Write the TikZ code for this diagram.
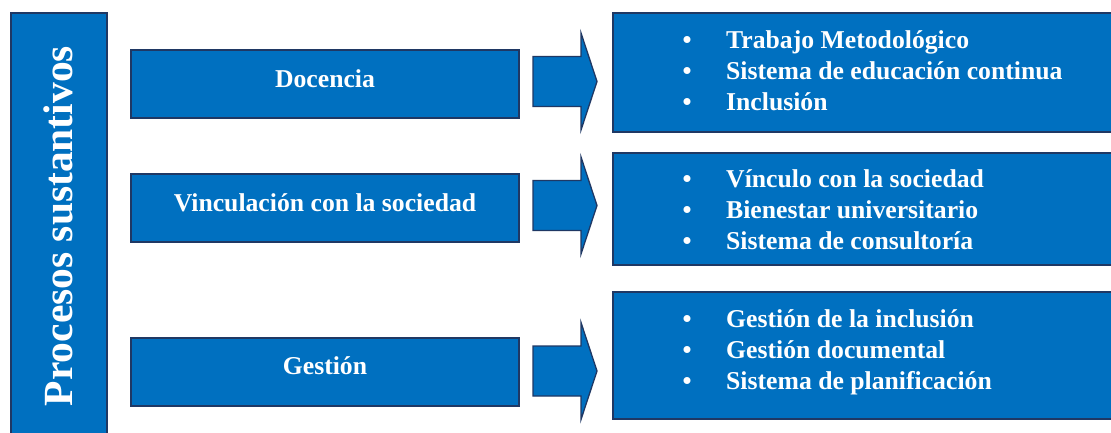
\documentclass[tikz,border=0pt]{standalone}
\usepackage{fontspec}
\setmainfont{Liberation Serif}
\definecolor{fillblue}{HTML}{0070C0}
\definecolor{edgeblue}{HTML}{1F3864}
\begin{document}
\begin{tikzpicture}[x=1pt,y=-1pt,
  box/.style={draw=edgeblue, fill=fillblue, line width=1.5pt, rectangle, inner sep=0pt},
  blockarrow/.style={draw=edgeblue, fill=fillblue, line width=1.3pt, line join=miter},
  txt/.style={text=white, font=\fontsize{25.7}{31}\selectfont\bfseries, inner sep=0pt},
  itemtxt/.style={txt, anchor=base west},
  bul/.style={txt, anchor=base},
  vtxt/.style={text=white, font=\fontsize{41.5}{48}\selectfont\bfseries, inner sep=0pt, anchor=base, rotate=90}]
\clip (0,0) rectangle (1111,432);
\fill[white] (0,0) rectangle (1111,432);

% left vertical bar
\node[box, minimum width=96pt, minimum height=432pt] (bar) at (59,229) {};
\node[vtxt] (bartxt) at (72,226) {Procesos sustantivos};

% left boxes
\node[box, minimum width=388pt, minimum height=68pt] (l1) at (325,84) {};
\node[box, minimum width=388pt, minimum height=68pt] (l2) at (325,208) {};
\node[box, minimum width=388pt, minimum height=68pt] (l3) at (325,372) {};
\node[txt, anchor=base] (l1t) at (325,87) {Docencia};
\node[txt, anchor=base] (l2t) at (325,211) {Vinculación con la sociedad};
\node[txt, anchor=base] (l3t) at (325,374) {Gestión};

% right boxes
\node[box, minimum width=512pt, minimum height=119pt] (r1) at (869,72.5) {};
\node[box, minimum width=512pt, minimum height=112pt] (r2) at (869,209) {};
\node[box, minimum width=512pt, minimum height=127pt] (r3) at (869,355.5) {};

% arrows
\foreach \c in {81.5,205.5,371}{
  \draw[blockarrow] (533,\c-25) -- (581,\c-25) -- (581,\c-48.5) -- (597,\c)
     -- (581,\c+48.5) -- (581,\c+25) -- (533,\c+25) -- cycle;
}

% bullet lists
\foreach \y/\t [count=\i] in {48/Trabajo Metodológico, 79/Sistema de educación continua, 110/Inclusión,
  187/Vínculo con la sociedad, 218/Bienestar universitario, 249/Sistema de consultoría,
  327/Gestión de la inclusión, 358/Gestión documental, 389/Sistema de planificación}{
  \node[bul] (b\i) at (687,\y) {•};
  \node[itemtxt] (t\i) at (726,\y) {\t};
}
\end{tikzpicture}
\end{document}
